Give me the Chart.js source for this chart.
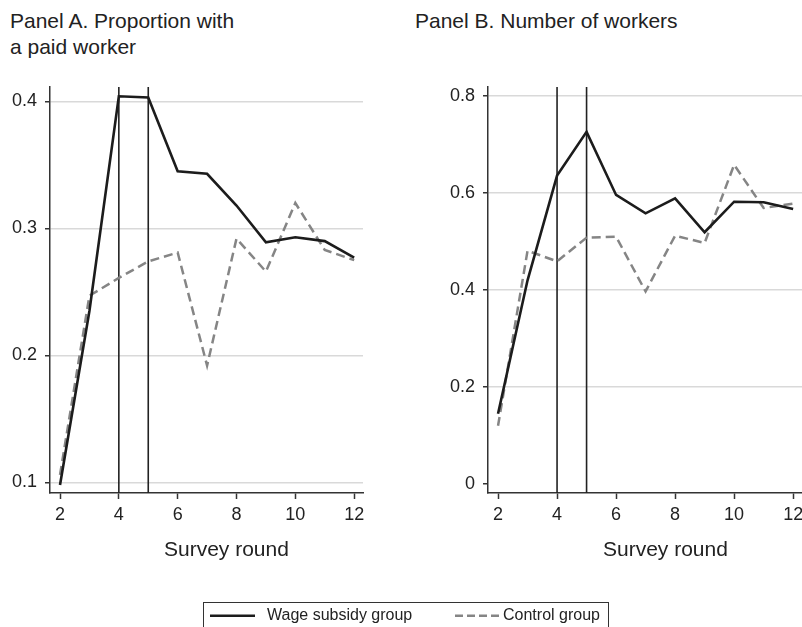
<!DOCTYPE html>
<html>
<head>
<meta charset="utf-8">
<script src="https://cdn.jsdelivr.net/npm/chart.js@4"></script>
<style>
  body { margin: 0; background: #fff; }
  #page { position: relative; width: 802px; height: 627px; overflow: hidden;
          font-family: "Liberation Sans", Arial, Helvetica, sans-serif; color: #222; background: #fff; }
  .ttl { position: absolute; font-size: 21px; line-height: 26px; white-space: nowrap; }
  .leg { position: absolute; font-size: 16px; line-height: 20px; white-space: nowrap; }
  canvas { position: absolute; }
</style>
</head>
<body>
<div id="page">
  <div class="ttl" style="left:10px;top:8px;">Panel A. Proportion with<br>a paid worker</div>
  <div class="ttl" style="left:415px;top:8px;">Panel B. Number of workers</div>

  <canvas id="panelA" width="370" height="540" style="left:0;top:0;"></canvas>
  <canvas id="panelB" width="364" height="540" style="left:438px;top:0;"></canvas>

  <div class="ttl" style="left:164px;top:536px;">Survey round</div>
  <div class="ttl" style="left:603px;top:536px;">Survey round</div>

  <div style="position:absolute;left:203px;top:602px;width:406px;height:40px;border:1.5px solid #333;box-sizing:border-box;"></div>
  <svg style="position:absolute;left:0;top:0;" width="802" height="627">
    <line x1="210" y1="615.7" x2="255" y2="615.7" stroke="#1c1c1c" stroke-width="2.6"/>
    <line x1="455" y1="615.7" x2="500" y2="615.7" stroke="#858585" stroke-width="2.4" stroke-dasharray="8,4"/>
  </svg>
  <div class="leg" style="left:267px;top:605px;">Wage subsidy group</div>
  <div class="leg" style="left:503px;top:605px;">Control group</div>
</div>

<script>
// Survey rounds shown on both panels
const rounds = [2, 3, 4, 5, 6, 7, 8, 9, 10, 11, 12];
// Rounds marking the subsidy period (vertical reference lines)
const markerRounds = [4, 5];
const xTicks = [2, 4, 6, 8, 10, 12];

// Panel A: proportion of firms with a paid worker
const paidWage = [0.098, 0.235, 0.404, 0.403, 0.345, 0.343, 0.318, 0.289, 0.293, 0.290, 0.277];
const paidControl = [0.106, 0.247, 0.261, 0.274, 0.281, 0.192, 0.292, 0.266, 0.320, 0.283, 0.275];
const paidTicks = [0.1, 0.2, 0.3, 0.4];

// Panel B: number of workers
const workersWage = [0.145, 0.420, 0.636, 0.726, 0.596, 0.558, 0.589, 0.519, 0.582, 0.581, 0.567];
const workersControl = [0.120, 0.481, 0.459, 0.508, 0.510, 0.397, 0.512, 0.497, 0.658, 0.569, 0.578];
const workersTicks = [0, 0.2, 0.4, 0.6, 0.8];

const AXIS = '#333';
const GRID = '#d9d9d9';
const FONT = { family: '"Liberation Sans", Arial, Helvetica, sans-serif', size: 18 };

const phaseLines = {
  id: 'phaseLines',
  beforeDatasetsDraw(chart) {
    const { ctx, chartArea, scales } = chart;
    ctx.save();
    ctx.strokeStyle = '#222';
    ctx.lineWidth = 1.6;
    markerRounds.forEach(r => {
      const px = scales.x.getPixelForValue(r);
      ctx.beginPath();
      ctx.moveTo(px, chartArea.top);
      ctx.lineTo(px, chartArea.bottom);
      ctx.stroke();
    });
    ctx.restore();
  }
};

function toPoints(values) {
  return rounds.map((r, i) => ({ x: r, y: values[i] }));
}

function makePanel(canvasId, wage, control, yTicks, yMin, yMax, rightPad) {
  return new Chart(document.getElementById(canvasId), {
    type: 'line',
    data: {
      datasets: [
        { label: 'Wage subsidy group', data: toPoints(wage), borderColor: '#1c1c1c',
          borderWidth: 2.6, pointRadius: 0, tension: 0, order: 0, borderJoinStyle: 'miter' },
        { label: 'Control group', data: toPoints(control), borderColor: '#858585',
          borderWidth: 2.5, borderDash: [9, 5], pointRadius: 0, tension: 0, order: 1, borderJoinStyle: 'miter' }
      ]
    },
    options: {
      responsive: false,
      devicePixelRatio: 1,
      animation: false,
      layout: { padding: { top: 87, right: rightPad, left: 0, bottom: 0 } },
      plugins: { legend: { display: false }, tooltip: { enabled: false }, title: { display: false } },
      scales: {
        x: {
          type: 'linear', min: 1.66, max: 12.3,
          afterBuildTicks: s => { s.ticks = xTicks.map(v => ({ value: v })); },
          afterFit: s => { s.height = 47; s.paddingLeft = 0; s.paddingRight = 0; },
          ticks: { autoSkip: false, maxRotation: 0, padding: 5, color: '#222', font: FONT,
                   callback: v => String(v) },
          grid: { drawOnChartArea: false, drawTicks: true, tickLength: 6, tickColor: AXIS, tickWidth: 1.5 },
          border: { display: true, color: AXIS, width: 1.5 }
        },
        y: {
          type: 'linear', min: yMin, max: yMax,
          afterBuildTicks: s => { s.ticks = yTicks.map(v => ({ value: v })); },
          afterFit: s => { s.width = 50; s.paddingTop = 0; s.paddingBottom = 0; },
          ticks: { autoSkip: false, padding: 8, color: '#222', font: FONT,
                   callback: v => String(v) },
          grid: {
            color: c => (c.tick && c.tick.value === 0) ? 'rgba(0,0,0,0)' : GRID,
            lineWidth: 1.5, drawTicks: true, tickLength: 5, tickColor: AXIS, tickWidth: 1.5
          },
          border: { display: true, color: AXIS, width: 1.5 }
        }
      }
    },
    plugins: [phaseLines]
  });
}

makePanel('panelA', paidWage, paidControl, paidTicks, 0.0917, 0.4113, 7);
makePanel('panelB', workersWage, workersControl, workersTicks, -0.0185, 0.8185, 0);
</script>
</body>
</html>
